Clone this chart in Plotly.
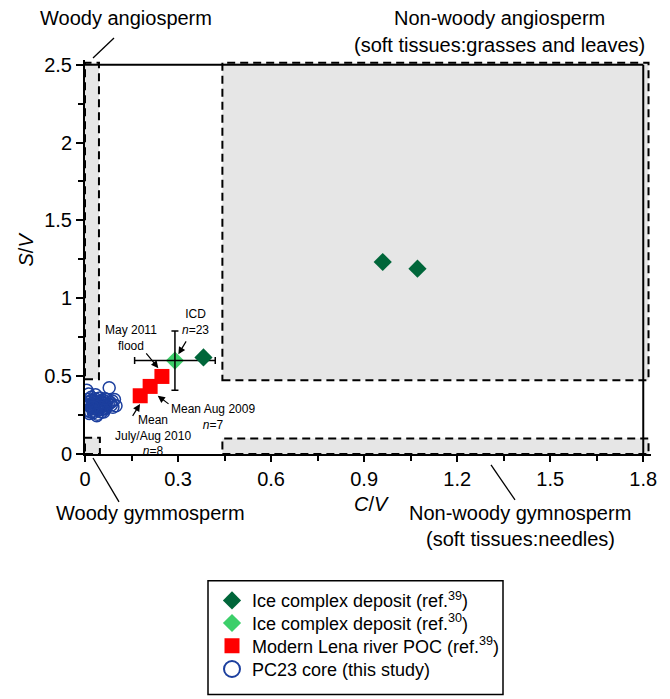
import plotly.graph_objects as go

# ---------------- data ----------------
icd39_cv = [0.96, 1.072, 0.382]
icd39_sv = [1.233, 1.19, 0.62]

icd30_cv = [0.29]
icd30_sv = [0.60]
icd30_cv_err = [0.13]
icd30_sv_err = [0.19]

lena_cv = [0.178, 0.21, 0.248]
lena_sv = [0.374, 0.434, 0.498]

pc23_cv = [0.006, 0.078, 0.012, 0.095, 0.100, 0.038, 0.005, 0.020, 0.025, 0.030, 0.035,
           0.040, 0.045, 0.050, 0.055, 0.060, 0.065, 0.070, 0.015, 0.022, 0.028, 0.033,
           0.042, 0.048, 0.053, 0.058, 0.062, 0.068, 0.075, 0.082, 0.088, 0.010, 0.018,
           0.027, 0.036, 0.044, 0.052, 0.060, 0.072, 0.085, 0.014, 0.024, 0.032, 0.046,
           0.056, 0.066, 0.008, 0.020, 0.040, 0.050, 0.064, 0.090, 0.034, 0.016, 0.026]
pc23_sv = [0.410, 0.425, 0.385, 0.350, 0.310, 0.245, 0.280, 0.300, 0.320, 0.290, 0.330,
           0.310, 0.295, 0.340, 0.305, 0.325, 0.315, 0.335, 0.260, 0.345, 0.275, 0.355,
           0.285, 0.360, 0.270, 0.345, 0.290, 0.300, 0.320, 0.330, 0.340, 0.330, 0.270,
           0.265, 0.300, 0.320, 0.285, 0.270, 0.350, 0.315, 0.310, 0.290, 0.340, 0.330,
           0.310, 0.290, 0.350, 0.365, 0.255, 0.300, 0.355, 0.300, 0.380, 0.320, 0.300]

# vegetation source regions (C/V from-to, S/V from-to)
region_names = ["Woody angiosperm", "Woody gymmosperm", "Non-woody angiosperm", "Non-woody gymnosperm"]
region_x0 = [0.0, 0.0, 0.443, 0.443]
region_x1 = [0.045, 0.048, 1.817, 1.817]
region_y0 = [0.48, 0.0, 0.474, 0.0]
region_y1 = [2.513, 0.105, 2.513, 0.10]

x_tick_vals = [0, 0.3, 0.6, 0.9, 1.2, 1.5, 1.8]
x_tick_text = ["0", "0.3", "0.6", "0.9", "1.2", "1.5", "1.8"]
x_minor_vals = [0.15, 0.45, 0.75, 1.05, 1.35, 1.65]
y_tick_vals = [0, 0.5, 1, 1.5, 2, 2.5]
y_tick_text = ["0", "0.5", "1", "1.5", "2", "2.5"]
y_minor_vals = [0.25, 0.75, 1.25, 1.75, 2.25]

X_MAX = 1.8
Y_MAX = 2.5

# ---------------- layout helpers ----------------
W, H = 670, 699
ML, MR, MT, MB = 85, 19, 60, 244
PW, PH = W - ML - MR, H - MT - MB


def px(xp):
    return (xp - ML) / PW


def py(yp):
    return (H - MB - yp) / PH


FONT = "Liberation Sans, Arial, Helvetica, sans-serif"
DKGREEN = "#00663a"
LTGREEN = "#3ccf6a"
RED = "#ff0000"
BLUE = "#1c3f9e"

fig = go.Figure()

fig.add_trace(go.Scatter(
    x=pc23_cv, y=pc23_sv, mode="markers", showlegend=False,
    marker=dict(symbol="circle-open", size=12, color=BLUE, line=dict(width=1.5, color=BLUE)),
))
fig.add_trace(go.Scatter(
    x=lena_cv, y=lena_sv, mode="markers", name="Modern Lena river POC (ref.<sup>39</sup>)",
    legend="legend3",
    marker=dict(symbol="square", size=15, color=RED, line=dict(width=0)),
))
fig.add_trace(go.Scatter(
    x=icd30_cv, y=icd30_sv, mode="markers", name="Ice complex deposit (ref.<sup>30</sup>)",
    legend="legend2",
    marker=dict(symbol="diamond", size=14, color=LTGREEN, line=dict(width=0)),
))
fig.add_trace(go.Scatter(
    x=icd30_cv, y=icd30_sv, mode="markers", showlegend=False,
    marker=dict(size=1, color="rgba(0,0,0,0)"),
    error_x=dict(type="data", array=icd30_cv_err, color="black", thickness=1.5, width=3.5),
    error_y=dict(type="data", array=icd30_sv_err, color="black", thickness=1.5, width=3.5),
))
fig.add_trace(go.Scatter(
    x=icd39_cv, y=icd39_sv, mode="markers", name="Ice complex deposit (ref.<sup>39</sup>)",
    legend="legend",
    marker=dict(symbol="diamond", size=14, color=DKGREEN, line=dict(width=0)),
))
# legend entry for PC23 core (larger symbol, as in the reference key)
fig.add_trace(go.Scatter(
    x=[None], y=[None], mode="markers", name="PC23 core (this study)",
    legend="legend4",
    marker=dict(symbol="circle-open", size=16, color=BLUE, line=dict(width=2, color=BLUE)),
))

shapes = []
for x0, x1, y0, y1 in zip(region_x0, region_x1, region_y0, region_y1):
    shapes.append(dict(type="rect", xref="x", yref="y", x0=x0, x1=x1, y0=y0, y1=y1,
                       fillcolor="#e6e6e6", layer="below",
                       line=dict(color="black", width=2, dash="8px,5px")))
# frame (top and right)
shapes.append(dict(type="line", xref="x", yref="y", x0=0, x1=X_MAX, y0=Y_MAX, y1=Y_MAX,
                   layer="below", line=dict(color="black", width=2)))
shapes.append(dict(type="line", xref="x", yref="y", x0=X_MAX, x1=X_MAX, y0=0, y1=Y_MAX,
                   layer="below", line=dict(color="black", width=2)))
# leader lines for the region labels
for (a, b, c, d) in [(114, 38, 93, 58), (93, 459, 119, 503), (491, 466, 515, 501)]:
    shapes.append(dict(type="line", xref="paper", yref="paper", x0=px(a), y0=py(b),
                       x1=px(c), y1=py(d), line=dict(color="black", width=1.3)))
# legend box
shapes.append(dict(type="rect", xref="paper", yref="paper", x0=px(208), x1=px(503),
                   y0=py(582), y1=py(696), line=dict(color="black", width=1.5)))

ann = []


def label(text, xp, yp, size=20, **kw):
    ann.append(dict(text=text, xref="paper", yref="paper", x=px(xp), y=py(yp),
                    xanchor="center", yanchor="middle", showarrow=False,
                    font=dict(family=FONT, size=size, color="black"), **kw))


label("Woody angiosperm", 126, 18)
label("Non-woody angiosperm", 499, 18)
label("(soft tissues:grasses and leaves)", 499, 45)
label("Woody gymmosperm", 150, 514)
label("Non-woody gymnosperm", 520, 514)
label("(soft tissues:needles)", 520, 540)
label("<i>C</i>/<i>V</i>", 371, 505)
label("<i>S</i>/<i>V</i>", 26, 250, textangle=-90)

# in-plot annotations (text centres and arrows in data units)
small_txt = [
    ("ICD<br><i>n</i>=23", 0.3548, 0.8462),
    ("May 2011<br>flood", 0.1474, 0.7468),
    ("Mean Aug 2009<br><i>n</i>=7", 0.4113, 0.2352),
    ("Mean<br>July/Aug 2010<br><i>n</i>=8", 0.2194, 0.1218),
]
for t, x, y in small_txt:
    ann.append(dict(text=t, x=x, y=y, xref="x", yref="y", showarrow=False,
                    xanchor="center", yanchor="middle",
                    font=dict(family=FONT, size=12, color="black")))
arrows = [
    (0.3290, 0.7327, 0.3010, 0.6410),
    (0.1935, 0.6558, 0.2365, 0.5513),
    (0.2742, 0.3147, 0.2345, 0.3744),
    (0.1506, 0.2350, 0.1774, 0.3205),
]
for ax_, ay_, x, y in arrows:
    ann.append(dict(text="", x=x, y=y, ax=ax_, ay=ay_, xref="x", yref="y",
                    axref="x", ayref="y", showarrow=True, arrowhead=2, arrowsize=1.2,
                    arrowwidth=1.2, arrowcolor="black", standoff=0, startstandoff=0))

leg_common = dict(xanchor="left", yanchor="middle", bgcolor="rgba(0,0,0,0)",
                  borderwidth=0, font=dict(family=FONT, size=18, color="black"),
                  itemwidth=30)
rows = [600.7, 623.3, 646, 669.3]

fig.update_layout(
    width=W, height=H,
    margin=dict(l=ML, r=MR, t=MT, b=MB),
    paper_bgcolor="white", plot_bgcolor="white",
    font=dict(family=FONT, size=20, color="black"),
    shapes=shapes, annotations=ann,
    legend=dict(x=px(212), y=py(rows[0]), **leg_common),
    legend2=dict(x=px(212), y=py(rows[1]), **leg_common),
    legend3=dict(x=px(212), y=py(rows[2]), **leg_common),
    legend4=dict(x=px(212), y=py(rows[3]), **leg_common),
    xaxis=dict(range=[0, 1.825], tickmode="array", tickvals=x_tick_vals, ticktext=x_tick_text,
               ticks="outside", ticklen=6, tickwidth=2, tickcolor="black",
               showline=True, linewidth=2, linecolor="black", showgrid=False, zeroline=False,
               tickfont=dict(family=FONT, size=20, color="black"),
               minor=dict(tickmode="array", tickvals=x_minor_vals, ticks="outside",
                          ticklen=5, tickwidth=2, tickcolor="black", showgrid=False)),
    yaxis=dict(range=[0, 2.53], tickmode="array", tickvals=y_tick_vals, ticktext=y_tick_text,
               ticks="outside", ticklen=7, tickwidth=2, tickcolor="black",
               showline=True, linewidth=2, linecolor="black", showgrid=False, zeroline=False,
               tickfont=dict(family=FONT, size=20, color="black"),
               minor=dict(tickmode="array", tickvals=y_minor_vals, ticks="outside",
                          ticklen=5, tickwidth=2, tickcolor="black", showgrid=False)),
)

fig.write_html("out.html")
